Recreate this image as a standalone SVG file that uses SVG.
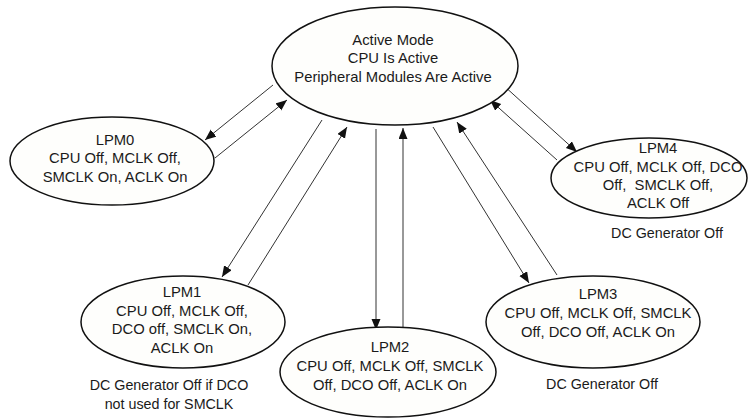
<svg xmlns="http://www.w3.org/2000/svg" width="753" height="418" viewBox="0 0 753 418">
<defs>
<style>
.node ellipse{fill:#fefefc;stroke:#111;stroke-width:1.5}
text{font-family:"Liberation Sans",Arial,sans-serif;font-size:14.8px;fill:#1a1a1a;text-anchor:middle;white-space:pre}
.big{font-size:14.8px}
.note{font-size:14.3px}
.conn line{stroke:#333;stroke-width:1;marker-end:url(#ah)}
</style>
<marker id="ah" markerUnits="userSpaceOnUse" markerWidth="12" markerHeight="10" refX="11" refY="4.5" orient="auto">
<path d="M0,0 L11,4.5 L0,9 z" fill="#111"/>
</marker>
</defs>
<rect width="753" height="418" fill="#fff"/>
<g class="conn" id="connectors">
<line x1="273" y1="85" x2="205" y2="140"/>
<line x1="215" y1="158" x2="287" y2="100"/>
<line x1="322" y1="120" x2="222" y2="277"/>
<line x1="248" y1="285" x2="347" y2="127"/>
<line x1="376" y1="129" x2="376" y2="330"/>
<line x1="403" y1="328" x2="403" y2="128"/>
<line x1="433" y1="127" x2="529" y2="283"/>
<line x1="557" y1="275" x2="457" y2="122"/>
<line x1="503" y1="85" x2="577" y2="152"/>
<line x1="557" y1="160" x2="490" y2="100"/>
</g>
<g class="node" id="active">
<ellipse cx="395" cy="66" rx="123" ry="59"/>
<text class="big" x="393" y="45">Active Mode</text>
<text class="big" x="393" y="63">CPU Is Active</text>
<text class="big" x="393" y="82">Peripheral Modules Are Active</text>
</g>
<g class="node" id="lpm0">
<ellipse cx="112" cy="161" rx="102" ry="44"/>
<text x="115" y="145">LPM0</text>
<text x="115" y="163">CPU Off, MCLK Off,</text>
<text x="115" y="182">SMCLK On, ACLK On</text>
</g>
<g class="node" id="lpm4">
<ellipse cx="649" cy="178" rx="98" ry="40"/>
<text x="658" y="153">LPM4</text>
<text x="658" y="172">CPU Off, MCLK Off, DCO</text>
<text x="658" y="190">Off,  SMCLK Off,</text>
<text x="658" y="208">ACLK Off</text>
<text class="note" x="667" y="238">DC Generator Off</text>
</g>
<g class="node" id="lpm1">
<ellipse cx="183" cy="322" rx="102" ry="46"/>
<text x="182" y="297">LPM1</text>
<text x="182" y="316">CPU Off, MCLK Off,</text>
<text x="182" y="334">DCO off, SMCLK On,</text>
<text x="182" y="353">ACLK On</text>
<text class="note" x="169" y="390">DC Generator Off if DCO</text>
<text class="note" x="169" y="409">not used for SMCLK</text>
</g>
<g class="node" id="lpm2">
<ellipse cx="388" cy="372" rx="108" ry="45"/>
<text x="390" y="352">LPM2</text>
<text x="390" y="371">CPU Off, MCLK Off, SMCLK</text>
<text x="390" y="390">Off, DCO Off, ACLK On</text>
</g>
<g class="node" id="lpm3">
<ellipse cx="593" cy="322" rx="107" ry="46"/>
<text x="598" y="299">LPM3</text>
<text x="598" y="318">CPU Off, MCLK Off, SMCLK</text>
<text x="598" y="337">Off, DCO Off, ACLK On</text>
<text class="note" x="602" y="389">DC Generator Off</text>
</g>
</svg>
